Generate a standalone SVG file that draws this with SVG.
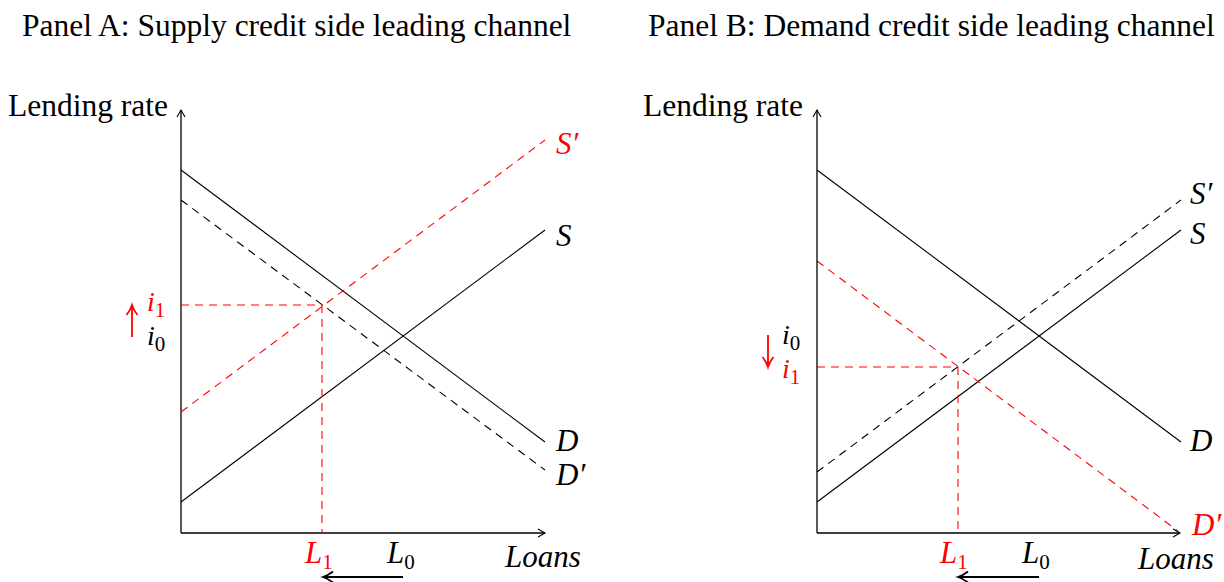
<svg xmlns="http://www.w3.org/2000/svg" width="1224" height="582" viewBox="0 0 1224 582" font-family="'Liberation Serif', 'Times New Roman', Times, serif">
<style>
text{font-family:'Liberation Serif','Times New Roman',Times,serif;fill:#000}
.t{font-size:31.5px}
.m{font-size:31px;font-style:italic}
.i{font-size:28px;font-style:italic}
.sub{font-size:21px;font-style:normal}
.red{fill:#ff0000}
.ax{stroke:#000;stroke-width:1.3;fill:none}
.ln{stroke:#000;stroke-width:1.1;fill:none}
.dk{stroke:#000;stroke-width:1.1;fill:none;stroke-dasharray:8,6}
.dr{stroke:#ff0000;stroke-width:1.1;fill:none;stroke-dasharray:8,6}
</style>
<defs>
<marker id="ah" markerWidth="10" markerHeight="10" refX="8" refY="5" orient="auto" markerUnits="userSpaceOnUse">
<path d="M1,1 L8,5 L1,9" fill="none" stroke="#000" stroke-width="1.1"/>
</marker>
<marker id="ahb" markerWidth="14" markerHeight="14" refX="11" refY="7" orient="auto" markerUnits="userSpaceOnUse">
<path d="M1,1.5 Q6,5.5 11,7 Q6,8.5 1,12.5" fill="none" stroke="#000" stroke-width="1.8"/>
</marker>
<marker id="ahr" markerWidth="14" markerHeight="14" refX="11" refY="7" orient="auto" markerUnits="userSpaceOnUse">
<path d="M1,1.5 Q6,5.5 11,7 Q6,8.5 1,12.5" fill="none" stroke="#ff0000" stroke-width="1.8"/>
</marker>
</defs>

<g id="titles">
<text class="t" x="22" y="36">Panel A: Supply credit side leading channel</text>
<text class="t" x="648" y="36">Panel B: Demand credit side leading channel</text>
</g>

<g id="panelA-axes">
<line class="ax" x1="181" y1="533" x2="181" y2="110" marker-end="url(#ah)"/>
<line class="ax" x1="181" y1="533" x2="545" y2="533" marker-end="url(#ah)"/>
<text class="t" x="8" y="116">Lending rate</text>
<text class="m" x="505" y="567">Loans</text>
</g>

<g id="connectors">
<line class="ln" x1="181" y1="170" x2="545" y2="442"/>
<line class="dk" x1="181" y1="200" x2="545" y2="470"/>
<line class="ln" x1="181" y1="502" x2="545" y2="230"/>
<line class="dr" x1="181" y1="412" x2="545" y2="140"/>
<line class="dr" x1="181" y1="305" x2="323" y2="305"/>
<line class="dr" x1="322" y1="305" x2="322" y2="533"/>
<line stroke="#000" stroke-width="1.8" x1="403" y1="577" x2="323" y2="577" marker-end="url(#ahb)"/>
<line stroke="#ff0000" stroke-width="1.8" x1="132" y1="337" x2="132" y2="305" marker-end="url(#ahr)"/>
<line class="ln" x1="817" y1="170" x2="1181" y2="442"/>
<line class="ln" x1="817" y1="502" x2="1181" y2="230"/>
<line class="dk" x1="817" y1="472" x2="1181" y2="200"/>
<line class="dr" x1="817" y1="261" x2="1178" y2="531"/>
<line class="dr" x1="817" y1="367" x2="958" y2="367"/>
<line class="dr" x1="958" y1="367" x2="958" y2="533"/>
<line stroke="#000" stroke-width="1.8" x1="1039" y1="577" x2="958" y2="577" marker-end="url(#ahb)"/>
<line stroke="#ff0000" stroke-width="1.8" x1="768" y1="335" x2="768" y2="367" marker-end="url(#ahr)"/>
</g>

<g id="panelA-labels">
<text class="m red" x="556" y="154">S′</text>
<text class="m" x="556" y="246">S</text>
<text class="m" x="556" y="451">D</text>
<text class="m" x="556" y="485">D′</text>
<text class="i red" x="147" y="311">i<tspan class="sub" dy="6">1</tspan></text>
<text class="i" x="147" y="345">i<tspan class="sub" dy="6">0</tspan></text>
<text class="m red" x="305" y="563">L<tspan class="sub" dy="6">1</tspan></text>
<text class="m" x="387" y="563">L<tspan class="sub" dy="6">0</tspan></text>
</g>

<g id="panelB-axes">
<line class="ax" x1="817" y1="533" x2="817" y2="110" marker-end="url(#ah)"/>
<line class="ax" x1="817" y1="533" x2="1180" y2="533" marker-end="url(#ah)"/>
<text class="t" x="643" y="116">Lending rate</text>
<text class="m" x="1138" y="569">Loans</text>
</g>

<g id="panelB-labels">
<text class="m" x="1190" y="204">S′</text>
<text class="m" x="1190" y="244">S</text>
<text class="m" x="1190" y="451">D</text>
<text class="m red" x="1192" y="535">D′</text>
<text class="i" x="782" y="344">i<tspan class="sub" dy="6">0</tspan></text>
<text class="i red" x="782" y="378">i<tspan class="sub" dy="6">1</tspan></text>
<text class="m red" x="940" y="563">L<tspan class="sub" dy="6">1</tspan></text>
<text class="m" x="1022" y="563">L<tspan class="sub" dy="6">0</tspan></text>
</g>
</svg>
